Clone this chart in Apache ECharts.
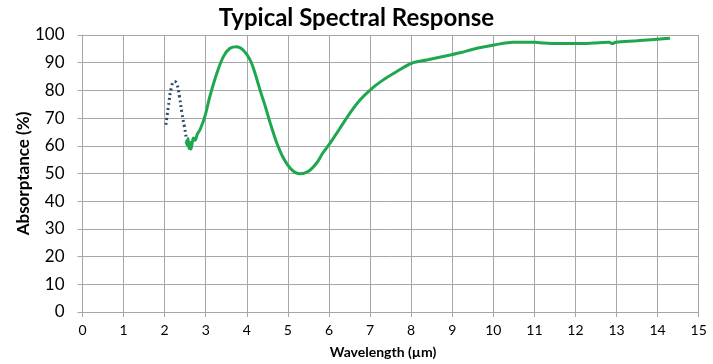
<!DOCTYPE html>
<html>
<head>
<meta charset="utf-8">
<script src="https://cdn.jsdelivr.net/npm/echarts@6/dist/echarts.min.js"></script>
<style>html,body{margin:0;padding:0;background:#fff}#c{width:713px;height:364px}</style>
</head>
<body>
<div id="c"></div>
<script>
var titleText = 'Typical Spectral Response';
var xAxisName = 'Wavelength (µm)';
var yAxisName = 'Absorptance (%)';

// Dotted (extrapolated) segment: [wavelength µm, absorptance %]
var dottedSeries = [
  [2.03, 67.6], [2.09, 74.2], [2.17, 81.4], [2.23, 83.2], [2.29, 82.6],
  [2.36, 77.8], [2.42, 71.8], [2.48, 67.0], [2.54, 62.2], [2.60, 59.6]
];

// Measured segment
var measuredSeries = [
  [2.52, 61.6], [2.55, 60.2], [2.57, 62.6], [2.59, 59.0], [2.62, 61.2],
  [2.64, 58.8], [2.67, 61.0], [2.70, 62.8], [2.74, 62.0], [2.80, 64.4],
  [2.86, 65.8], [2.98, 70.6], [3.10, 77.8], [3.27, 86.2], [3.43, 92.2],
  [3.59, 95.2], [3.75, 95.8], [3.91, 94.6], [4.08, 91.0], [4.20, 86.2],
  [4.32, 80.2], [4.45, 74.2], [4.57, 68.2], [4.73, 61.0], [4.89, 55.6],
  [5.09, 51.4], [5.29, 49.9], [5.50, 50.8], [5.70, 53.8], [5.85, 57.4],
  [6.00, 60.4], [6.27, 66.4], [6.51, 71.8], [6.76, 76.6], [7.02, 80.4],
  [7.32, 83.8], [7.65, 86.8], [8.01, 89.8], [8.38, 91.0], [8.95, 92.8],
  [9.19, 93.6], [9.60, 95.2], [10.02, 96.4], [10.48, 97.4], [11.02, 97.4],
  [11.22, 97.1], [11.62, 96.9], [12.01, 96.9], [12.43, 97.1], [12.82, 97.4],
  [12.90, 96.9], [12.98, 97.4], [13.49, 97.9], [14.00, 98.5], [14.30, 98.8]
];

var xMin = 0, xMax = 15, xStep = 1;
var yMin = 0, yMax = 100, yStep = 10;

var gridColor = '#a6a6a6';
var chart = echarts.init(document.getElementById('c'), null, {renderer: 'canvas'});
chart.setOption({
  animation: false,
  backgroundColor: '#ffffff',
  title: {
    text: titleText,
    left: 'center',
    top: 1,
    textStyle: {fontFamily: 'Lato', fontWeight: 'bold', fontSize: 24, color: '#000'}
  },
  grid: {left: 82.5, right: 14.3, top: 35, bottom: 51.3, containLabel: false},
  xAxis: {
    type: 'value', min: xMin, max: xMax, interval: xStep,
    name: xAxisName, nameLocation: 'middle', nameGap: 33, nameMoveOverlap: false,
    nameTextStyle: {fontFamily: 'Lato', fontWeight: 'bold', fontSize: 14, color: '#000', padding: [0, 15, 0, 0]},
    axisLine: {show: true, lineStyle: {color: gridColor, width: 1}},
    axisTick: {show: true, length: 5, lineStyle: {color: gridColor}},
    axisLabel: {fontFamily: 'Lato', fontSize: 14, color: '#000', margin: 11},
    splitLine: {show: true, lineStyle: {color: gridColor, width: 1}}
  },
  yAxis: {
    type: 'value', min: yMin, max: yMax, interval: yStep,
    name: yAxisName, nameLocation: 'middle', nameGap: 50, nameMoveOverlap: false,
    nameTextStyle: {fontFamily: 'Lato', fontWeight: 'bold', fontSize: 17, color: '#000'},
    axisLine: {show: true, lineStyle: {color: gridColor, width: 1}},
    axisTick: {show: true, length: 5, lineStyle: {color: gridColor}},
    axisLabel: {fontFamily: 'Lato', fontSize: 17, color: '#000', margin: 18},
    splitLine: {show: true, lineStyle: {color: gridColor, width: 1}}
  },
  series: [
    {
      type: 'line', data: dottedSeries, showSymbol: false, smooth: true,
      lineStyle: {color: '#2e4a6e', width: 3, type: [2, 3]}, z: 2
    },
    {
      type: 'line', data: measuredSeries, showSymbol: false, smooth: 0.3,
      lineStyle: {color: '#1fa74f', width: 3}, z: 3
    }
  ]
});
</script>
</body>
</html>
